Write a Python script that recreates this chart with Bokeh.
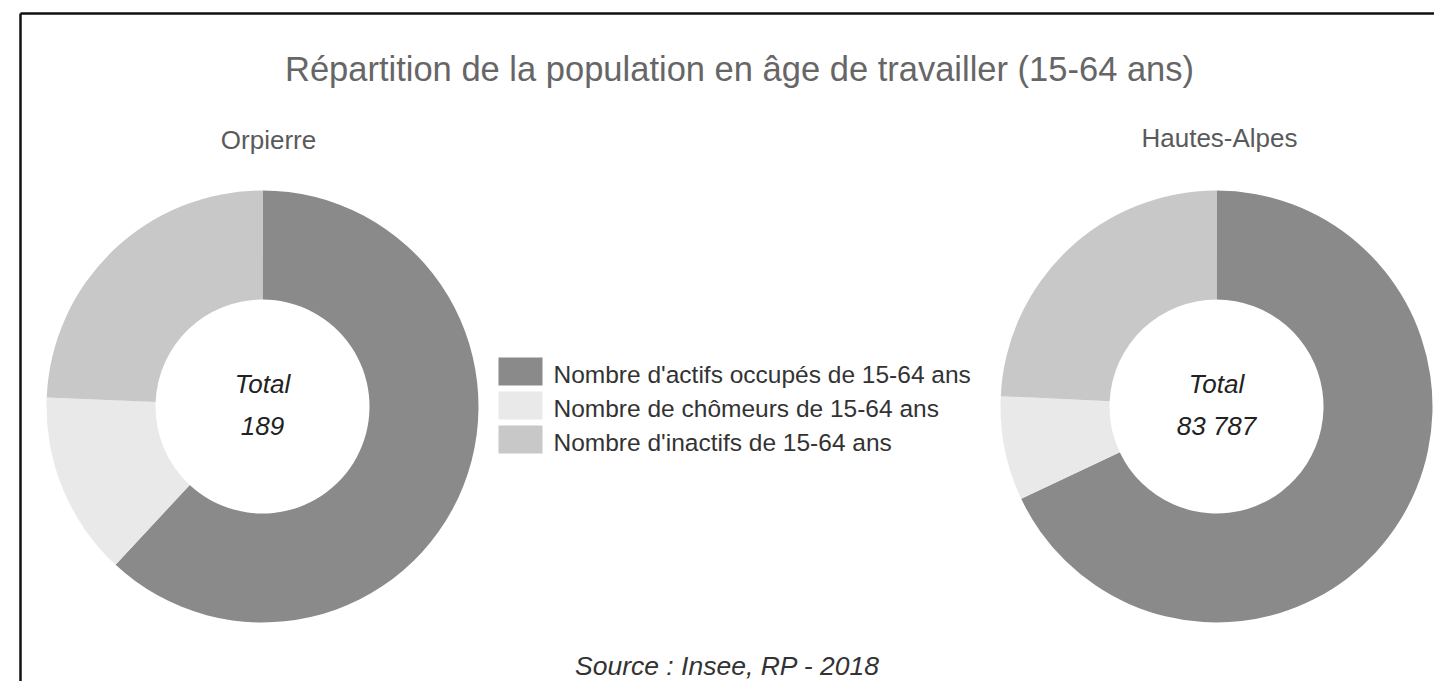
import math
from bokeh.plotting import figure
from bokeh.models import Range1d, ColumnDataSource
from bokeh.core.properties import value
from bokeh.embed import file_html
from bokeh.resources import INLINE

# ---- data ----
chart_title = "Répartition de la population en âge de travailler (15-64 ans)"
source_note = "Source : Insee, RP - 2018"
categories = [
    "Nombre d'actifs occupés de 15-64 ans",
    "Nombre de chômeurs de 15-64 ans",
    "Nombre d'inactifs de 15-64 ans",
]
zones = ["Orpierre", "Hautes-Alpes"]
orpierre = [117, 26, 46]
hautes_alpes = [56950, 6530, 20307]
colors = ["#8a8a8a", "#e9e9e9", "#c8c8c8"]

# ---- layout (screen pixels, picture starts at top-left of the figure) ----
W, H = 1434, 681


def fx(sx):
    return sx


def fy(sy):
    return H - sy


FONT = value("Liberation Sans")

p = figure(width=W, height=H, output_backend="svg", toolbar_location=None,
           x_range=Range1d(0, W), y_range=Range1d(0, H),
           x_axis_type=None, y_axis_type=None, min_border=0)
p.grid.visible = False
p.outline_line_color = None
p.background_fill_color = "white"
p.border_fill_color = "white"

# frame border (box extends past the window on right/bottom)
p.segment(x0=[fx(20), fx(20)], y0=[fy(13), fy(13)],
          x1=[fx(1500), fx(20)], y1=[fy(13), fy(760)],
          line_color="#111111", line_width=2.5)

# title
p.text(x=[fx(739)], y=[fy(68)], text=[chart_title], text_font=FONT,
       text_font_size=value("34.5px"), text_color="#666666",
       text_align="center", text_baseline="middle")

centers = [(262, 406), (1216, 406)]
sub_pos = [(268, 139), (1219, 137)]
R_OUT, R_IN = 216, 107
series = [orpierre, hautes_alpes]


def fmt_total(n):
    return f"{n:,}".replace(",", " ")


for zone, vals, (cx, cy), (tx, ty) in zip(zones, series, centers, sub_pos):
    total = sum(vals)
    starts, ends = [], []
    c = 0.0
    for v in vals:
        c0 = c / total
        c += v
        c1 = c / total
        starts.append(math.pi / 2 - 2 * math.pi * c1)
        ends.append(math.pi / 2 - 2 * math.pi * c0)
    src = ColumnDataSource(dict(
        x=[fx(cx)] * len(vals), y=[fy(cy)] * len(vals),
        start=starts, end=ends, color=colors, cat=categories, val=vals))
    p.annular_wedge(x="x", y="y", inner_radius=R_IN, outer_radius=R_OUT,
                    inner_radius_units="screen", outer_radius_units="screen",
                    start_angle="start", end_angle="end",
                    fill_color="color", line_color=None, source=src)
    # subtitle
    p.text(x=[fx(tx)], y=[fy(ty)], text=[zone], text_font=FONT,
           text_font_size=value("26px"), text_color="#5a5a5a",
           text_align="center", text_baseline="middle")
    # centre labels
    p.text(x=[fx(cx), fx(cx)], y=[fy(383), fy(425)],
           text=["Total", fmt_total(total)], text_font=FONT,
           text_font_size=value("26px"), text_font_style="italic",
           text_color="#222222", text_align="center",
           text_baseline="middle")

# legend
sw_left, sw_right = 498, 542
row_centers = [371, 405, 439]
sw_h = 28
p.quad(left=[fx(sw_left)] * 3, right=[fx(sw_right)] * 3,
       top=[fy(rc - sw_h / 2) for rc in row_centers],
       bottom=[fy(rc + sw_h / 2) for rc in row_centers],
       fill_color=colors, line_color=None)
p.text(x=[fx(553)] * 3, y=[fy(rc + 3) for rc in row_centers],
       text=categories, text_font=FONT, text_font_size=value("24.5px"),
       text_color="#333333", text_align="left", text_baseline="middle")

# source
p.text(x=[fx(727)], y=[fy(665)], text=[source_note], text_font=FONT,
       text_font_size=value("26.5px"), text_font_style="italic",
       text_color="#333333", text_align="center", text_baseline="middle")

open("out.html", "w").write(file_html(p, INLINE))
